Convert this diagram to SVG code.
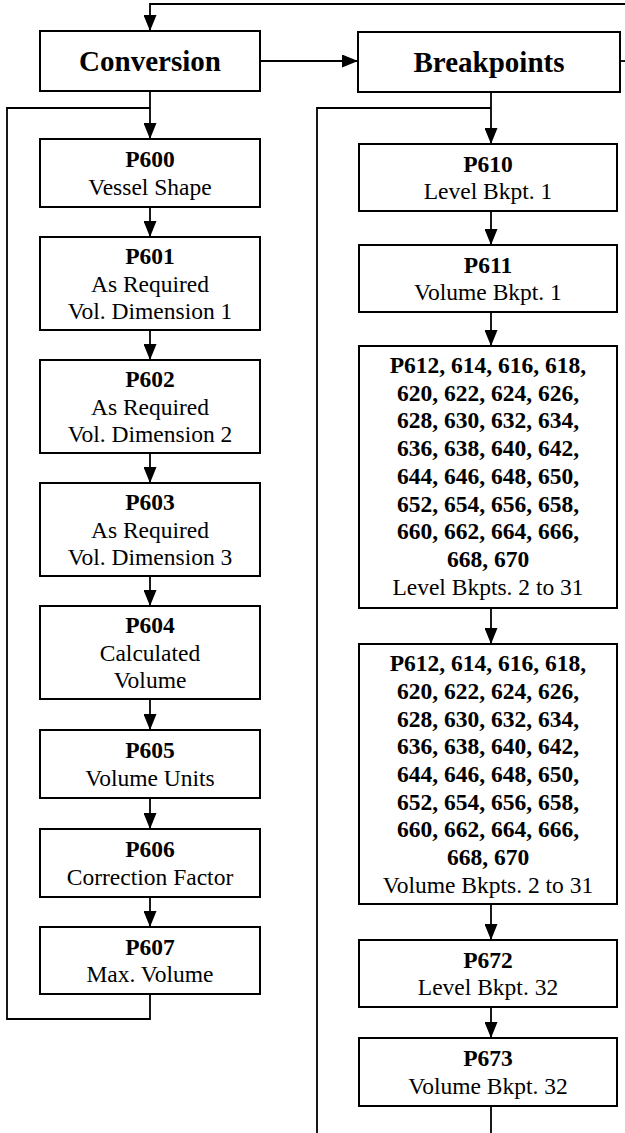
<svg xmlns="http://www.w3.org/2000/svg" width="625" height="1133" viewBox="0 0 625 1133">
<defs>
<marker id="ah" viewBox="0 0 16 13" refX="16" refY="6.5" markerWidth="16" markerHeight="13" markerUnits="userSpaceOnUse" orient="auto">
<path d="M0,0 L16,6.5 L0,13 z" fill="#000"/>
</marker>
<style>
.box{fill:#fff;stroke:#000;stroke-width:2}
.ln{fill:none;stroke:#000;stroke-width:1.8}
.ar{fill:none;stroke:#000;stroke-width:1.8;marker-end:url(#ah)}
text{font-family:'Liberation Serif','Times New Roman',serif;fill:#000;text-anchor:middle;font-size:23.5px}
.b{font-weight:bold}
.t{font-weight:bold;font-size:29px}
</style>
</defs>
<rect width="625" height="1133" fill="#fff"/>
<g id="connectors">
<polyline class="ar" points="625,4 150,4 150,31"/>
<line class="ar" x1="260" y1="61" x2="358" y2="61"/>
<line class="ln" x1="620" y1="61" x2="625" y2="61"/>
<line class="ar" x1="150" y1="91" x2="150" y2="139"/>
<polyline class="ln" points="150,108 7,108 7,1019 150,1019 150,994"/>
<line class="ar" x1="150" y1="207" x2="150" y2="237"/>
<line class="ar" x1="150" y1="330" x2="150" y2="360"/>
<line class="ar" x1="150" y1="453" x2="150" y2="483"/>
<line class="ar" x1="150" y1="576" x2="150" y2="606"/>
<line class="ar" x1="150" y1="699" x2="150" y2="730"/>
<line class="ar" x1="150" y1="798" x2="150" y2="829"/>
<line class="ar" x1="150" y1="897" x2="150" y2="927"/>
<line class="ar" x1="491" y1="92" x2="491" y2="144"/>
<polyline class="ln" points="491,108 317,108 317,1133"/>
<line class="ar" x1="491" y1="211" x2="491" y2="245"/>
<line class="ar" x1="491" y1="312" x2="491" y2="346"/>
<line class="ar" x1="491" y1="608" x2="491" y2="644"/>
<line class="ar" x1="491" y1="904" x2="491" y2="940"/>
<line class="ar" x1="491" y1="1007" x2="491" y2="1038"/>
<line class="ln" x1="491" y1="1106" x2="491" y2="1133"/>
</g>
<g id="conversion">
<rect class="box" x="40" y="31" width="220" height="60"/>
<text class="t" x="150" y="71">Conversion</text>
</g>
<g id="breakpoints">
<rect class="box" x="358" y="32" width="262" height="60"/>
<text class="t" x="489" y="72">Breakpoints</text>
</g>
<g id="p600">
<rect class="box" x="40" y="139" width="220" height="68"/>
<text class="b" x="150" y="167">P600</text>
<text x="150" y="195">Vessel Shape</text>
</g>
<g id="p601">
<rect class="box" x="40" y="237" width="220" height="93"/>
<text class="b" x="150" y="264">P601</text>
<text x="150" y="291.5">As Required</text>
<text x="150" y="319">Vol. Dimension 1</text>
</g>
<g id="p602">
<rect class="box" x="40" y="360" width="220" height="93"/>
<text class="b" x="150" y="387">P602</text>
<text x="150" y="414.5">As Required</text>
<text x="150" y="442">Vol. Dimension 2</text>
</g>
<g id="p603">
<rect class="box" x="40" y="483" width="220" height="93"/>
<text class="b" x="150" y="510">P603</text>
<text x="150" y="537.5">As Required</text>
<text x="150" y="565">Vol. Dimension 3</text>
</g>
<g id="p604">
<rect class="box" x="40" y="606" width="220" height="93"/>
<text class="b" x="150" y="633">P604</text>
<text x="150" y="660.5">Calculated</text>
<text x="150" y="688">Volume</text>
</g>
<g id="p605">
<rect class="box" x="40" y="730" width="220" height="68"/>
<text class="b" x="150" y="758">P605</text>
<text x="150" y="786">Volume Units</text>
</g>
<g id="p606">
<rect class="box" x="40" y="829" width="220" height="68"/>
<text class="b" x="150" y="857">P606</text>
<text x="150" y="885">Correction Factor</text>
</g>
<g id="p607">
<rect class="box" x="40" y="927" width="220" height="67"/>
<text class="b" x="150" y="954.5">P607</text>
<text x="150" y="982">Max. Volume</text>
</g>
<g id="p610">
<rect class="box" x="359" y="144" width="258" height="67"/>
<text class="b" x="488" y="171.5">P610</text>
<text x="488" y="199">Level Bkpt. 1</text>
</g>
<g id="p611">
<rect class="box" x="359" y="245" width="258" height="67"/>
<text class="b" x="488" y="272.5">P611</text>
<text x="488" y="300">Volume Bkpt. 1</text>
</g>
<g id="level-bkpts">
<rect class="box" x="359" y="346" width="258" height="262"/>
<text class="b" x="488" y="373">P612, 614, 616, 618,</text>
<text class="b" x="488" y="400.7">620, 622, 624, 626,</text>
<text class="b" x="488" y="428.4">628, 630, 632, 634,</text>
<text class="b" x="488" y="456.1">636, 638, 640, 642,</text>
<text class="b" x="488" y="483.8">644, 646, 648, 650,</text>
<text class="b" x="488" y="511.5">652, 654, 656, 658,</text>
<text class="b" x="488" y="539.2">660, 662, 664, 666,</text>
<text class="b" x="488" y="566.9">668, 670</text>
<text x="488" y="594.6">Level Bkpts. 2 to 31</text>
</g>
<g id="volume-bkpts">
<rect class="box" x="359" y="644" width="258" height="260"/>
<text class="b" x="488" y="671.2">P612, 614, 616, 618,</text>
<text class="b" x="488" y="698.9">620, 622, 624, 626,</text>
<text class="b" x="488" y="726.6">628, 630, 632, 634,</text>
<text class="b" x="488" y="754.3">636, 638, 640, 642,</text>
<text class="b" x="488" y="782">644, 646, 648, 650,</text>
<text class="b" x="488" y="809.7">652, 654, 656, 658,</text>
<text class="b" x="488" y="837.4">660, 662, 664, 666,</text>
<text class="b" x="488" y="865.1">668, 670</text>
<text x="488" y="892.8">Volume Bkpts. 2 to 31</text>
</g>
<g id="p672">
<rect class="box" x="359" y="940" width="258" height="67"/>
<text class="b" x="488" y="967.5">P672</text>
<text x="488" y="995">Level Bkpt. 32</text>
</g>
<g id="p673">
<rect class="box" x="359" y="1038" width="258" height="68"/>
<text class="b" x="488" y="1066">P673</text>
<text x="488" y="1094">Volume Bkpt. 32</text>
</g>
</svg>
